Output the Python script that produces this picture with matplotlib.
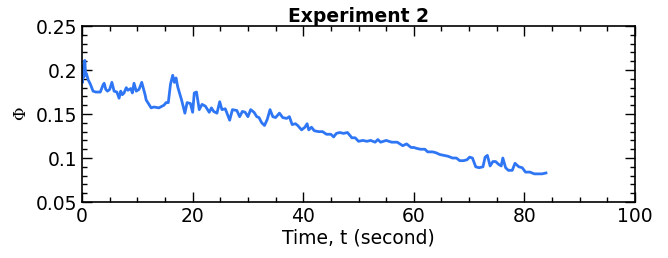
import matplotlib
matplotlib.use('Agg')
import matplotlib.pyplot as plt
import numpy as np
from matplotlib.ticker import MultipleLocator

# values
time = [0.0, 0.1, 0.2, 0.35, 0.5, 0.65, 0.8, 1.1, 1.5, 2.0, 2.5, 3.3, 3.8, 4.0, 4.3, 4.6, 5.0,
        5.4, 5.8, 6.3, 6.7, 7.0, 7.3, 7.6, 8.0, 8.3, 8.8, 9.1, 9.4, 9.8, 10.3, 10.8, 11.4,
        11.6, 12.5, 13.0, 13.9, 14.8, 15.2, 15.6, 16.0, 16.4, 16.7, 17.0, 17.3, 18.0, 18.6,
        19.0, 19.6, 20.0, 20.3, 20.7, 21.2, 21.7, 22.3, 23.0, 23.4, 23.8, 24.4, 24.9, 25.3,
        25.9, 26.7, 27.2, 28.0, 28.5, 29.0, 29.5, 30.0, 30.5, 31.1, 31.6, 32.0, 32.5, 33.0,
        33.5, 34.0, 34.5, 35.0, 35.7, 36.3, 37.0, 37.5, 38.0, 38.6, 39.0, 39.7, 40.3, 40.7,
        41.0, 41.5, 42.0, 42.8, 43.5, 44.2, 45.0, 45.5, 46.0, 46.6, 47.3, 48.0, 48.8, 49.4,
        50.0, 50.8, 51.5, 52.2, 53.0, 53.5, 54.0, 55.0, 56.0, 57.0, 58.0, 58.7, 59.5, 60.0,
        60.5, 61.2, 62.0, 62.5, 63.4, 64.0, 64.7, 65.5, 66.2, 67.0, 67.7, 68.3, 69.0, 69.6,
        70.1, 70.6, 71.2, 71.8, 72.5, 72.9, 73.3, 73.8, 74.3, 74.8, 75.3, 75.8, 76.1, 76.6,
        77.1, 77.8, 78.3, 79.0, 79.6, 80.2, 81.0, 81.8, 82.5, 83.2, 83.9]
phi = [0.198, 0.186, 0.205, 0.192, 0.211, 0.195, 0.196, 0.189, 0.184, 0.176, 0.175, 0.175,
       0.183, 0.185, 0.178, 0.176, 0.178, 0.186, 0.176, 0.175, 0.168, 0.176, 0.172, 0.174,
       0.180, 0.177, 0.179, 0.174, 0.185, 0.176, 0.178, 0.186, 0.172, 0.166, 0.157, 0.158,
       0.157, 0.160, 0.163, 0.163, 0.184, 0.194, 0.186, 0.191, 0.181, 0.166, 0.151, 0.163,
       0.162, 0.152, 0.174, 0.175, 0.155, 0.161, 0.159, 0.152, 0.157, 0.153, 0.151, 0.164,
       0.155, 0.156, 0.143, 0.155, 0.154, 0.147, 0.153, 0.152, 0.147, 0.155, 0.152, 0.147,
       0.146, 0.140, 0.137, 0.144, 0.155, 0.147, 0.146, 0.151, 0.146, 0.145, 0.147, 0.138,
       0.139, 0.137, 0.132, 0.135, 0.139, 0.132, 0.135, 0.131, 0.130, 0.130, 0.127, 0.127,
       0.124, 0.128, 0.129, 0.128, 0.129, 0.123, 0.123, 0.119, 0.120, 0.119, 0.120, 0.118,
       0.121, 0.118, 0.120, 0.118, 0.118, 0.114, 0.116, 0.112, 0.112, 0.111, 0.110, 0.110,
       0.107, 0.107, 0.106, 0.104, 0.103, 0.102, 0.100, 0.100, 0.097, 0.097, 0.098, 0.101,
       0.100, 0.090, 0.089, 0.090, 0.101, 0.103, 0.091, 0.096, 0.096, 0.093, 0.091, 0.100,
       0.089, 0.086, 0.086, 0.094, 0.090, 0.089, 0.084, 0.084, 0.082, 0.082, 0.082, 0.083]

plt.rcParams['mathtext.fontset'] = 'dejavuserif'

fig = plt.figure(figsize=(6.68, 2.58), dpi=100)
ax = fig.add_axes([0.1228, 0.217, 0.8278, 0.682])

ax.plot(time, phi, color='#2f76f5', lw=2.0)

ax.set_xlim(0, 100)
ax.set_ylim(0.05, 0.25)
ax.xaxis.set_major_locator(MultipleLocator(20))
ax.xaxis.set_minor_locator(MultipleLocator(5))
ax.yaxis.set_minor_locator(MultipleLocator(0.01))
ax.set_yticks([0.05, 0.1, 0.15, 0.2, 0.25], labels=['0.05', '0.1', '0.15', '0.2', '0.25'])

ax.tick_params(which='both', direction='in', top=True, right=True, labelsize=13.5, width=1.0)
ax.tick_params(which='major', length=7)
ax.tick_params(which='minor', length=3.5)
for s in ax.spines.values():
    s.set_linewidth(1.2)

ax.set_xlabel('Time, t (second)', fontsize=13.5, labelpad=2)
ax.set_ylabel(r'$\Phi$', fontsize=12, labelpad=4)
ax.set_title('Experiment 2', fontsize=13.5, fontweight='bold', pad=3)

fig.savefig('out.png', dpi=100)
